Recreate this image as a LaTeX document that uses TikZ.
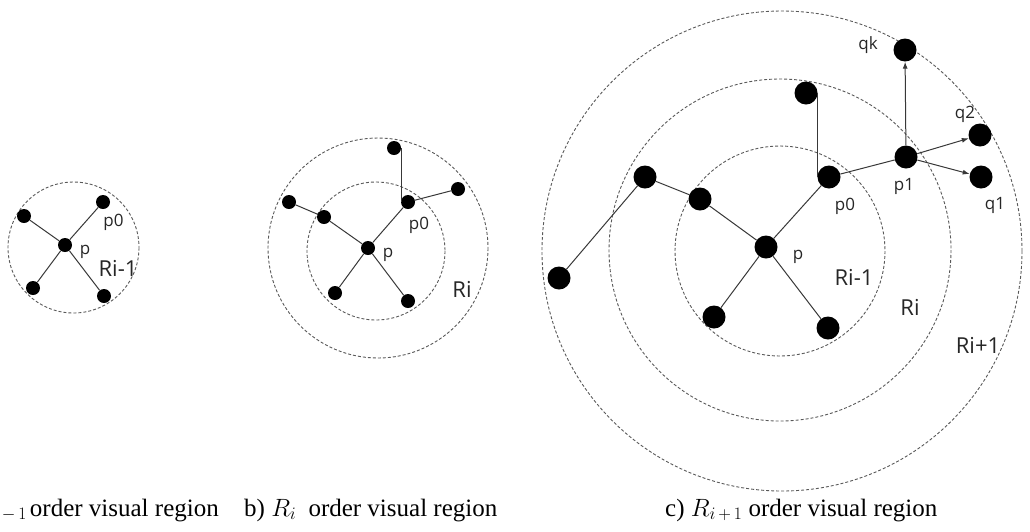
\RequirePackage{fix-cm}
\documentclass[tikz,border=0pt]{standalone}
\usepackage{fontspec}
\setmainfont{Liberation Serif}
\setsansfont{Open Sans}
\usetikzlibrary{arrows.meta}
\definecolor{ln}{gray}{0.22}
\definecolor{rg}{gray}{0.35}
\begin{document}
\begin{tikzpicture}[x=1pt,y=-1pt,
 dot/.style={circle,fill=black,inner sep=0pt,minimum size=14pt},
 bigdot/.style={circle,fill=black,inner sep=0pt,minimum size=23pt},
 edge/.style={draw=ln,line width=1pt},
 arr/.style={edge,-{Latex[length=7pt,width=5pt]}},
 ring/.style={draw=rg,line width=0.9pt,dash pattern=on 3pt off 2pt},
 lbl/.style={font=\sffamily\fontsize{17}{20}\selectfont,inner sep=0pt,text=black!85},
 rlbl/.style={font=\sffamily\fontsize{22}{26}\selectfont,inner sep=0pt,text=black!85},
 captxt/.style={font=\fontsize{25}{29}\selectfont,inner sep=0pt}]
\useasboundingbox (0,0) rectangle (1030,531);
% ---------- panel a ----------
\draw[ring] (73.5,247.5) circle (65.5);
\node[dot] (ap) at (65,245) {};
\node[dot] (ap0) at (103,202) {};
\node[dot] (aul) at (24,216) {};
\node[dot] (all) at (33,288) {};
\node[dot] (alr) at (104,296) {};
\draw[edge] (ap) -- (ap0);
\draw[edge] (ap) -- (aul);
\draw[edge] (ap) -- (all);
\draw[edge] (ap) -- (alr);
\node[lbl] (lap0) at (113.5,222) {p0};
\node[lbl] (lap) at (85,252) {p};
\node[rlbl] (laR) at (118,268) {Ri-1};
\node[captxt,anchor=base east] (capa) at (219,516) {a) $R_{i\,-\,1}$\hspace{3pt}order visual region};
% ---------- panel b ----------
\draw[ring] (378,248) circle (110);
\draw[ring] (376,251) circle (69);
\node[dot] (bp) at (368,248) {};
\node[dot] (bp0) at (408,202) {};
\node[dot] (btop) at (394,148) {};
\node[dot] (br) at (458,189) {};
\node[dot] (bui) at (324,217) {};
\node[dot] (buo) at (289,202) {};
\node[dot] (bll) at (335,293) {};
\node[dot] (blr) at (408,301) {};
\draw[edge] (bp) -- (bp0);
\draw[edge] (bp0) -- (br);
\draw[edge] (bp) -- (bui);
\draw[edge] (bui) -- (buo);
\draw[edge] (bp) -- (bll);
\draw[edge] (bp) -- (blr);
\draw[edge] (btop.east) -- (btop.east |- bp0.west);
\node[lbl] (lbp0) at (419,225) {p0};
\node[lbl] (lbp) at (388,255) {p};
\node[rlbl] (lbR) at (462,289) {Ri};
\node[captxt,anchor=base west] (capb) at (244,516) {b) $R_{i}$\hspace{6pt} order visual region};
% ---------- panel c ----------
\draw[ring] (782,251) circle (240);
\draw[ring] (780,250) circle (171);
\draw[ring] (780,251) circle (105);
\node[bigdot] (cp) at (766,247) {};
\node[bigdot] (cp0) at (829,177) {};
\node[bigdot] (cp1) at (906,157) {};
\node[bigdot] (ctop) at (806,93) {};
\node[bigdot] (cqk) at (905,50) {};
\node[bigdot] (cq2) at (980,135) {};
\node[bigdot] (cq1) at (981,177) {};
\node[bigdot] (cui) at (700,199) {};
\node[bigdot] (cuo) at (645,177) {};
\node[bigdot] (cfl) at (559,278) {};
\node[bigdot] (cll) at (714,317) {};
\node[bigdot] (clr) at (828,328) {};
\draw[edge] (cp) -- (cp0);
\draw[edge] (cp0) -- (cp1);
\draw[edge] (cp) -- (cui);
\draw[edge] (cui) -- (cuo);
\draw[edge] (cuo) -- (cfl);
\draw[edge] (cp) -- (cll);
\draw[edge] (cp) -- (clr);
\draw[edge] (ctop.east) -- (ctop.east |- cp0.west);
\draw[arr] (cp1) -- (cqk);
\draw[arr] (cp1) -- (cq2);
\draw[arr] (cp1) -- (cq1);
\node[lbl] (lcqk) at (868,45) {qk};
\node[lbl] (lcq2) at (965,114) {q2};
\node[lbl] (lcp1) at (904,186) {p1};
\node[lbl] (lcq1) at (995,205) {q1};
\node[lbl] (lcp0) at (845,206) {p0};
\node[lbl] (lcp) at (798,257) {p};
\node[rlbl] (lcR1) at (854,277) {Ri-1};
\node[rlbl] (lcR2) at (910,307) {Ri};
\node[rlbl] (lcR3) at (978,345) {Ri+1};
\node[captxt,anchor=base west] (capc) at (665,516) {c) $R_{i\,+\,1}$ order visual region};
\end{tikzpicture}
\end{document}
